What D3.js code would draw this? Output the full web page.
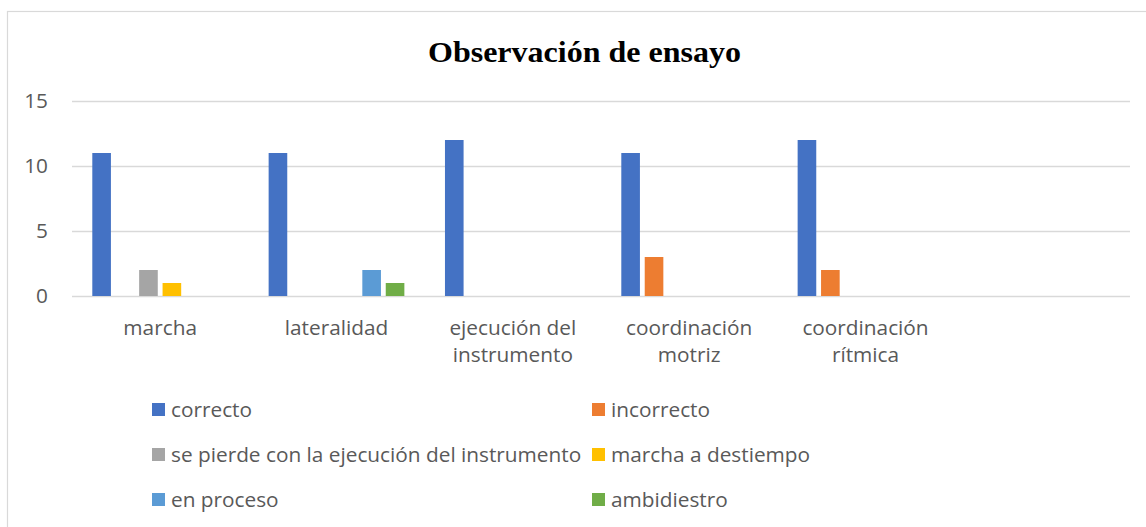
<!DOCTYPE html>
<html>
<head>
<meta charset="utf-8">
<script src="https://cdn.jsdelivr.net/npm/d3@7"></script>
<style>
  html, body { margin: 0; padding: 0; background: #fff; }
  svg { display: block; }
  text { font-family: "Open Sans", Lato, sans-serif; }
</style>
</head>
<body>
<svg id="chart" width="1146" height="527"></svg>
<script>
// Category labels (each inner array is one label line)
const categories = [
  ["marcha"],
  ["lateralidad"],
  ["ejecución del", "instrumento"],
  ["coordinación", "motriz"],
  ["coordinación", "rítmica"]
];

const seriesNames = [
  "correcto",
  "incorrecto",
  "se pierde con la ejecución del instrumento",
  "marcha a destiempo",
  "en proceso",
  "ambidiestro"
];

// One value per category; null = no bar
const correcto    = [11, 11, 12, 11, 12];
const incorrecto  = [null, null, null, 3, 2];
const sePierde    = [2, null, null, null, null];
const destiempo   = [1, null, null, null, null];
const enProceso   = [null, 2, null, null, null];
const ambidiestro = [null, 1, null, null, null];

const seriesValues = [correcto, incorrecto, sePierde, destiempo, enProceso, ambidiestro];
const colors = ["#4472C4", "#ED7D31", "#A5A5A5", "#FFC000", "#5B9BD5", "#70AD47"];

const yTicks = [0, 5, 10, 15];

const labelSize = "20.8px";

const svg = d3.select("#chart");

// Outer chart frame
svg.append("rect")
  .attr("x", 7.5).attr("y", 11.5)
  .attr("width", 1200).attr("height", 600)
  .attr("fill", "#fff")
  .attr("stroke", "#d9d9d9")
  .attr("stroke-width", 1.2);

// Title
svg.append("text")
  .attr("x", 584.5).attr("y", 62)
  .attr("text-anchor", "middle")
  .attr("textLength", 313)
  .attr("lengthAdjust", "spacingAndGlyphs")
  .style("font-family", "'Liberation Serif', 'Times New Roman', serif")
  .style("font-weight", "bold")
  .style("font-size", "29px")
  .attr("fill", "#000")
  .text("Observación de ensayo");

const plot = { left: 72, right: 1130, top: 101, bottom: 296 };

// Six category slots along the axis; the last one is left empty
const slotKeys = d3.range(categories.length + 1);
const x0 = d3.scaleBand()
  .domain(slotKeys)
  .range([plot.left, plot.right])
  .paddingInner(0).paddingOuter(0);

const x1 = d3.scaleBand()
  .domain(d3.range(seriesNames.length))
  .range([20.3, x0.bandwidth() - 20.3])
  .paddingInner(0.205).paddingOuter(0);

const y = d3.scaleLinear()
  .domain([0, 15])
  .range([plot.bottom, plot.top]);

// Gridlines and y tick labels via axis
const yAxis = d3.axisLeft(y)
  .tickValues(yTicks)
  .tickSize(-(plot.right - plot.left))
  .tickPadding(24)
  .tickFormat(d3.format("d"));

const gy = svg.append("g")
  .attr("transform", `translate(${plot.left},0)`)
  .call(yAxis);
gy.select(".domain").remove();
gy.selectAll(".tick line")
  .attr("stroke", "#d9d9d9")
  .attr("stroke-width", 1.5);
gy.selectAll(".tick text")
  .attr("fill", "#595959")
  .style("font-size", labelSize)
  .style("font-family", "'Open Sans', sans-serif");

// Bars
const groups = svg.append("g")
  .selectAll("g")
  .data(categories)
  .join("g")
  .attr("transform", (d, i) => `translate(${x0(i)},0)`);

groups.selectAll("rect")
  .data((d, ci) => seriesValues.map((vals, si) => ({ si, v: vals[ci] })).filter(e => e.v != null))
  .join("rect")
  .attr("x", e => x1(e.si))
  .attr("width", x1.bandwidth())
  .attr("y", e => y(e.v))
  .attr("height", e => y(0) - y(e.v))
  .attr("fill", e => colors[e.si]);

// Category labels
const xlab = svg.append("g");
categories.forEach((lines, i) => {
  const t = xlab.append("text")
    .attr("x", x0(i) + x0.bandwidth() / 2)
    .attr("y", 335)
    .attr("text-anchor", "middle")
    .attr("fill", "#595959")
    .style("font-size", labelSize);
  lines.forEach((ln, k) => {
    t.append("tspan")
      .attr("x", x0(i) + x0.bandwidth() / 2)
      .attr("dy", k === 0 ? 0 : 27)
      .text(ln);
  });
});

// Legend: two columns, three rows
const legendCols = [152, 592];
const legendRows = [410, 455, 500];
const legend = svg.append("g");
seriesNames.forEach((name, i) => {
  const cx = legendCols[i % 2];
  const cy = legendRows[Math.floor(i / 2)];
  legend.append("rect")
    .attr("x", cx).attr("y", cy - 7)
    .attr("width", 13).attr("height", 13)
    .attr("fill", colors[i]);
  legend.append("text")
    .attr("x", cx + 19).attr("y", cy + 7)
    .attr("fill", "#595959")
    .style("font-size", labelSize)
    .text(name);
});
</script>
</body>
</html>
